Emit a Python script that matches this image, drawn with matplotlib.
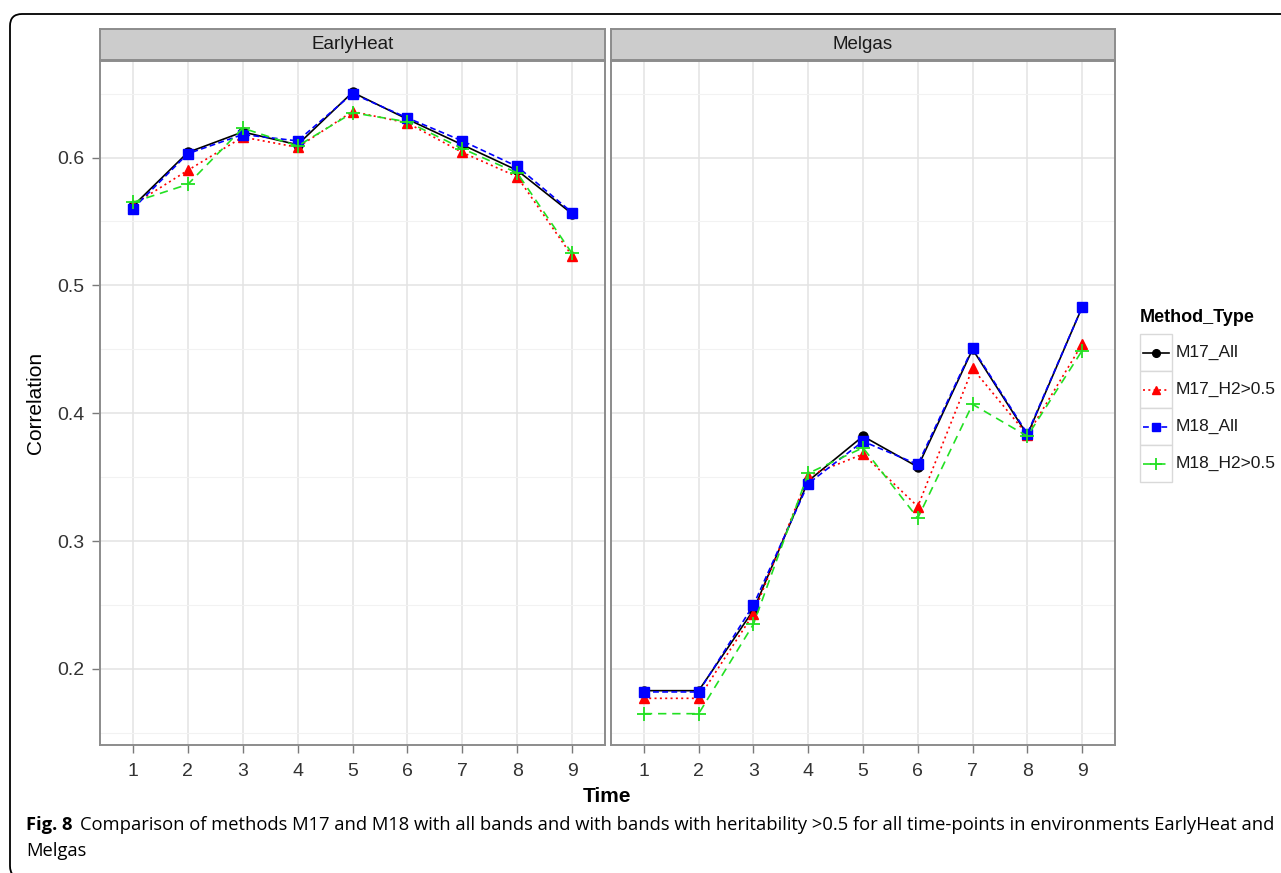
import matplotlib
matplotlib.use("Agg")
import matplotlib.pyplot as plt
from matplotlib import font_manager
from matplotlib.patches import Rectangle, FancyBboxPatch

# data
times = [1, 2, 3, 4, 5, 6, 7, 8, 9]
panels = ["EarlyHeat", "Melgas"]
methods = ["M17_All", "M17_H2>0.5", "M18_All", "M18_H2>0.5"]

early_m17_all = [0.562, 0.604, 0.620, 0.610, 0.651, 0.630, 0.610, 0.590, 0.556]
early_m17_h2 = [0.563, 0.590, 0.616, 0.608, 0.636, 0.627, 0.604, 0.585, 0.523]
early_m18_all = [0.560, 0.603, 0.618, 0.613, 0.650, 0.631, 0.613, 0.593, 0.557]
early_m18_h2 = [0.565, 0.579, 0.623, 0.609, 0.635, 0.628, 0.607, 0.588, 0.525]

melgas_m17_all = [0.183, 0.183, 0.246, 0.347, 0.382, 0.358, 0.450, 0.383, 0.483]
melgas_m17_h2 = [0.177, 0.177, 0.243, 0.351, 0.368, 0.327, 0.435, 0.383, 0.454]
melgas_m18_all = [0.182, 0.182, 0.250, 0.345, 0.378, 0.360, 0.451, 0.384, 0.483]
melgas_m18_h2 = [0.165, 0.165, 0.235, 0.353, 0.373, 0.318, 0.407, 0.382, 0.449]

y_ticks = [0.2, 0.3, 0.4, 0.5, 0.6]
y_minor = [0.15, 0.25, 0.35, 0.45, 0.55, 0.65]

caption_bold = "Fig. 8"
caption_text = ("Comparison of methods M17 and M18 with all bands and with bands with "
                "heritability >0.5 for all time-points in environments EarlyHeat and")
caption_line2 = "Melgas"

series = {
    "EarlyHeat": [early_m17_all, early_m17_h2, early_m18_all, early_m18_h2],
    "Melgas": [melgas_m17_all, melgas_m17_h2, melgas_m18_all, melgas_m18_h2],
}

styles = [
    dict(color="black", marker="o", ls="-", ms=6.5),
    dict(color="#ff0000", marker="^", ls=(0, (1.2, 2.0)), ms=7.5),
    dict(color="#0000ff", marker="s", ls=(0, (3.5, 2.0)), ms=7),
    dict(color="#22e022", marker="+", ls=(0, (5, 3.5)), ms=10, mew=1.3),
]

avail = {f.name for f in font_manager.fontManager.ttflist}
gg_font = "Liberation Sans Narrow" if "Liberation Sans Narrow" in avail else "Liberation Sans"
cap_font = "Open Sans" if "Open Sans" in avail else "DejaVu Sans"
plt.rcParams["font.family"] = [gg_font, "DejaVu Sans"]

W, H = 1281, 873
fig = plt.figure(figsize=(W / 100, H / 100), dpi=100)

def fx(px):
    return px / W

def fy(py):
    return 1 - py / H

text_col = "#333333"
border_col = "#8c8c8c"

panel_x = [(100, 605), (611, 1115)]
top, bottom = 61, 745

for i, name in enumerate(panels):
    x0, x1 = panel_x[i]
    ax = fig.add_axes([fx(x0), fy(bottom), fx(x1 - x0), (bottom - top) / H])
    for vals, st in zip(series[name], styles):
        ax.plot(times, vals, lw=1.2, mec=st["color"], **st)
    ax.set_xlim(0.4, 9.6)
    ax.set_ylim(0.1405, 0.6755)
    ax.set_xticks(times)
    ax.set_yticks(y_ticks)
    ax.set_yticks(y_minor, minor=True)
    ax.grid(True, which="major", color="#e3e3e3", lw=1.1)
    ax.grid(True, which="minor", axis="y", color="#f2f2f2", lw=0.8)
    ax.set_axisbelow(True)
    for sp in ax.spines.values():
        sp.set_color(border_col)
        sp.set_linewidth(1.4)
    ax.tick_params(axis="both", which="major", length=6, width=1, color="#7a7a7a",
                   labelsize=14, labelcolor=text_col)
    ax.tick_params(axis="x", pad=7)
    ax.tick_params(axis="y", pad=5)
    ax.tick_params(axis="y", which="minor", length=0)
    if i == 1:
        ax.tick_params(axis="y", which="both", left=False, labelleft=False)
    # facet strip
    sax = fig.add_axes([fx(x0), fy(60), fx(x1 - x0), 31 / H])
    sax.set_facecolor("#cccccc")
    sax.set_xticks([])
    sax.set_yticks([])
    for sp in sax.spines.values():
        sp.set_color(border_col)
        sp.set_linewidth(1.4)
    sax.text(0.5, 0.5, name, ha="center", va="center", fontsize=13.5,
             color="#1a1a1a", transform=sax.transAxes)

fig.text(fx(35), fy(403), "Correlation", rotation=90, ha="center", va="center",
         fontsize=15, color="black")
fig.text(fx(607), fy(797), "Time", ha="center", va="center", fontsize=15,
         fontweight="bold", color="black")

# legend built from the same styles
lax = fig.add_axes([fx(1137), fy(492), fx(144), 190 / H])
lax.set_xlim(0, 144)
lax.set_ylim(190, 0)
lax.axis("off")
lax.text(3, 16, "Method_Type", fontsize=13, fontweight="bold", va="center", ha="left")
key_top, key_h = 32, 37
for k, (label, st) in enumerate(zip(methods, styles)):
    yk = key_top + k * key_h
    yc = yk + key_h / 2
    lax.add_patch(Rectangle((3, yk), 32, key_h, facecolor="white",
                            edgecolor="#d9d9d9", lw=1))
    lax.plot([6, 32], [yc, yc], lw=1.2, color=st["color"], ls=st["ls"])
    lax.plot([19], [yc], ls="none", marker=st["marker"], color=st["color"],
             ms=st["ms"] * 0.85, mew=st.get("mew", 1))
    lax.text(39, yc, label, fontsize=12.5, va="center", ha="left",
             color="#1a1a1a")

# journal frame around the figure
frame = FancyBboxPatch((0.10, -0.05), 13.4, 8.64,
                       boxstyle="round,pad=0,rounding_size=0.12",
                       transform=fig.dpi_scale_trans, facecolor="none",
                       edgecolor="black", lw=1.3)
fig.patches.append(frame)

# caption, fitted to width
t1 = fig.text(fx(26), fy(825), caption_bold, fontsize=13, fontweight="bold",
              family=[cap_font, "DejaVu Sans"], va="center", ha="left")
t2 = fig.text(fx(84), fy(825), caption_text, fontsize=13,
              family=[cap_font, "DejaVu Sans"], va="center", ha="left")
t3 = fig.text(fx(26), fy(851), caption_line2, fontsize=13,
              family=[cap_font, "DejaVu Sans"], va="center", ha="left")
fig.canvas.draw()
r = fig.canvas.get_renderer()
w2 = t2.get_window_extent(r).width
scale = (1275 - 84) / w2
for t in (t1, t2, t3):
    t.set_fontsize(13 * scale)
fig.canvas.draw()
w1 = t1.get_window_extent(r).width
t2.set_x(fx(26 + w1 + 8))

fig.savefig("out.png", dpi=100)
